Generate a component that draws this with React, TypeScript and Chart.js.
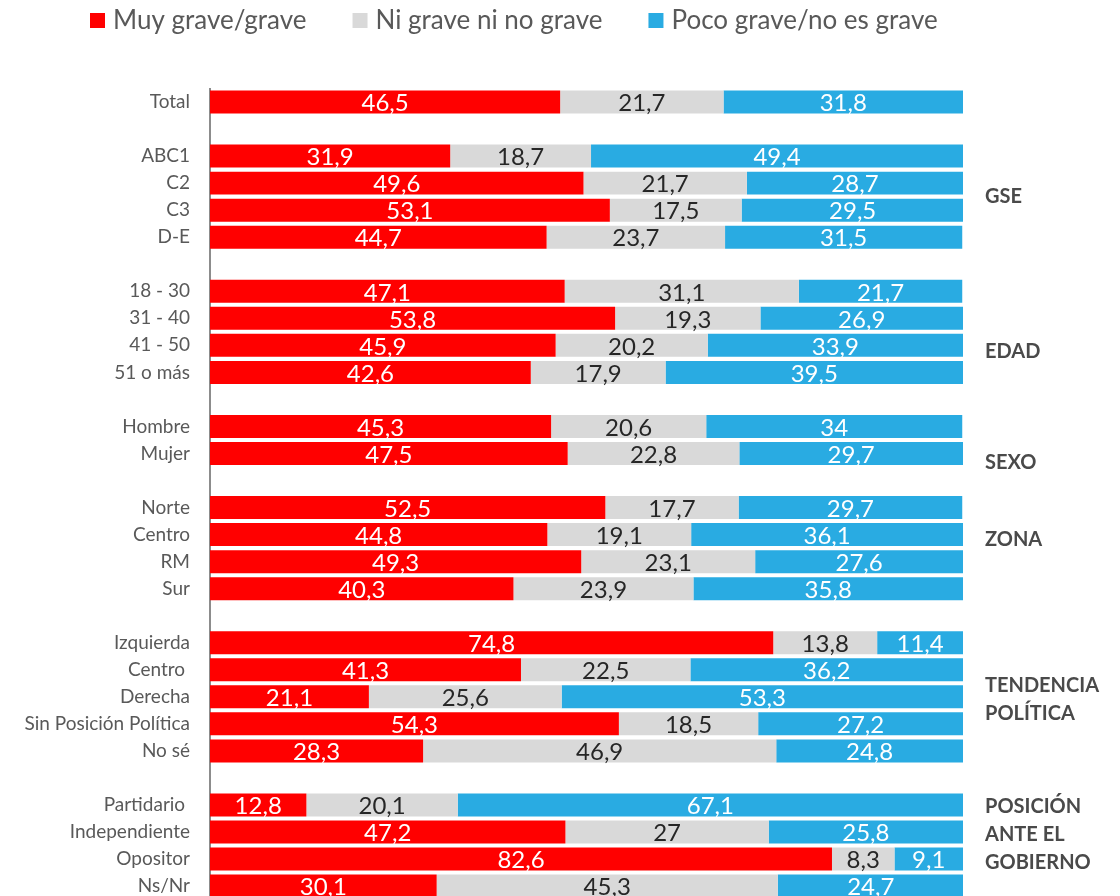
import React, { useEffect, useRef } from "react";
import { Chart, registerables } from "chart.js";

Chart.register(...registerables);

const categories = [
  "Total", "", "ABC1", "C2", "C3", "D-E", "",
  "18 - 30", "31 - 40", "41 - 50", "51 o más", "",
  "Hombre", "Mujer", "",
  "Norte", "Centro", "RM", "Sur", "",
  "Izquierda", "Centro ", "Derecha", "Sin Posición Política", "No sé", "",
  "Partidario ", "Independiente", "Opositor", "Ns/Nr",
];

const muyGrave = [46.5, null, 31.9, 49.6, 53.1, 44.7, null, 47.1, 53.8, 45.9, 42.6, null, 45.3, 47.5, null, 52.5, 44.8, 49.3, 40.3, null, 74.8, 41.3, 21.1, 54.3, 28.3, null, 12.8, 47.2, 82.6, 30.1];
const niGrave = [21.7, null, 18.7, 21.7, 17.5, 23.7, null, 31.1, 19.3, 20.2, 17.9, null, 20.6, 22.8, null, 17.7, 19.1, 23.1, 23.9, null, 13.8, 22.5, 25.6, 18.5, 46.9, null, 20.1, 27, 8.3, 45.3];
const pocoGrave = [31.8, null, 49.4, 28.7, 29.5, 31.5, null, 21.7, 26.9, 33.9, 39.5, null, 34, 29.7, null, 29.7, 36.1, 27.6, 35.8, null, 11.4, 36.2, 53.3, 27.2, 24.8, null, 67.1, 25.8, 9.1, 24.7];

const seriesNames = ["Muy grave/grave", "Ni grave ni no grave", "Poco grave/no es grave"];
const seriesColors = ["#FF0000", "#D9D9D9", "#29ABE2"];
const labelColors = ["#FFFFFF", "#262626", "#FFFFFF"];

const groupNames = [["GSE"], ["EDAD"], ["SEXO"], ["ZONA"], ["TENDENCIA", "POLÍTICA"], ["POSICIÓN", "ANTE EL", "GOBIERNO"]];
const groupRowIndex = [3.48, 9.22, 13.33, 16.2, 21.6, 26.07];

const FONT = "Lato, 'Open Sans', sans-serif";

const valueLabelsPlugin = {
  id: "valueLabels",
  afterDatasetsDraw(chart: any) {
    const ctx = chart.ctx;
    ctx.save();
    ctx.font = `24px ${FONT}`;
    ctx.textAlign = "center";
    ctx.textBaseline = "middle";
    chart.data.datasets.forEach((ds: any, di: number) => {
      const meta = chart.getDatasetMeta(di);
      meta.data.forEach((el: any, i: number) => {
        const v = ds.data[i];
        if (v === null || v === undefined) return;
        const cx = (el.x + el.base) / 2;
        ctx.fillStyle = labelColors[di];
        ctx.fillText(String(v).replace(".", ","), cx, el.y + 1.5);
      });
    });
    ctx.restore();
  },
};

const sideLabelsPlugin = {
  id: "sideLabels",
  afterDraw(chart: any) {
    const ctx = chart.ctx;
    const yScale = chart.scales.y;
    const x = chart.chartArea.right + 22;
    ctx.save();
    ctx.font = `bold 20px ${FONT}`;
    ctx.fillStyle = "#4A4A4A";
    ctx.textAlign = "left";
    ctx.textBaseline = "middle";
    groupNames.forEach((lines, gi) => {
      lines.forEach((line, li) => {
        const y = yScale.getPixelForValue(groupRowIndex[gi] + li * 1.03);
        ctx.fillText(line, x, y);
      });
    });
    ctx.restore();
  },
};

const legendPlugin = {
  id: "customLegend",
  afterDraw(chart: any) {
    const ctx = chart.ctx;
    ctx.save();
    ctx.font = `26px ${FONT}`;
    ctx.textBaseline = "middle";
    ctx.textAlign = "left";
    let x = 82;
    const yc = 12.5;
    seriesNames.forEach((name, i) => {
      ctx.fillStyle = seriesColors[i];
      ctx.fillRect(x, yc - 7.5, 15, 15);
      x += 15 + 8;
      ctx.fillStyle = "#595959";
      ctx.fillText(name, x, yc);
      x += ctx.measureText(name).width + 46;
    });
    ctx.restore();
  },
};

export default function App() {
  const canvasRef = useRef<HTMLCanvasElement | null>(null);

  useEffect(() => {
    if (!canvasRef.current) return;
    const chart = new Chart(canvasRef.current, {
      type: "bar",
      data: {
        labels: categories,
        datasets: [muyGrave, niGrave, pocoGrave].map((d, i) => ({
          label: seriesNames[i],
          data: d,
          backgroundColor: seriesColors[i],
          borderWidth: 0,
          categoryPercentage: 1,
          barPercentage: 0.85,
        })),
      },
      options: {
        indexAxis: "y",
        animation: false,
        responsive: false,
        maintainAspectRatio: false,
        layout: { padding: { top: 80.5, right: 149, left: 0, bottom: 0 } },
        plugins: {
          legend: { display: false },
          tooltip: { enabled: false },
        },
        scales: {
          x: {
            stacked: true,
            min: 0,
            max: 100,
            display: false,
          },
          y: {
            stacked: true,
            grid: { display: false },
            border: { display: true, color: "#8C8C8C", width: 2 },
            ticks: {
              color: "#595959",
              font: { family: FONT, size: 19 },
              padding: 12,
              autoSkip: false,
            },
            afterFit(scale: any) {
              scale.width = 202;
            },
          },
        },
      },
      plugins: [valueLabelsPlugin, sideLabelsPlugin, legendPlugin],
    } as any);
    return () => chart.destroy();
  }, []);

  return (
    <div style={{ height: 880 }}>
      <div
        style={{
          position: "fixed",
          left: 8,
          top: 8,
          width: 1104,
          height: 888,
          overflow: "hidden",
        }}
      >
        <canvas ref={canvasRef} width={1104} height={915} style={{ display: "block" }} />
      </div>
    </div>
  );
}
